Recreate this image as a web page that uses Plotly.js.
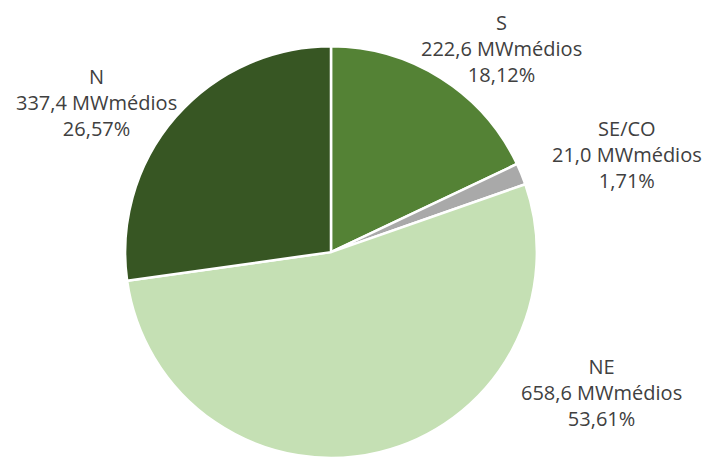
<!DOCTYPE html>
<html>
<head>
<meta charset="utf-8">
<script src="https://cdn.plot.ly/plotly-3.0.1.min.js"></script>
<style>html,body{margin:0;padding:0;background:#fff;}</style>
</head>
<body>
<div id="chart" style="width:708px;height:458px;"></div>
<script>
const regions = ["S", "SE/CO", "NE", "N"];
const mwValues = [222.6, 21.0, 658.6, 337.4];
const mwText = ["222,6", "21,0", "658,6", "337,4"];
const percentText = ["18,12%", "1,71%", "53,61%", "26,57%"];
const colors = ["#548235", "#A9A9A9", "#C5E0B4", "#375623"];
const labelX = [0.708, 0.885, 0.850, 0.137];
const labelY = [0.895, 0.662, 0.142, 0.777];

const annotations = regions.map((r, i) => ({
  text: r + "<br>" + mwText[i] + " MWmédios<br>" + percentText[i],
  x: labelX[i], y: labelY[i], xref: "paper", yref: "paper",
  xanchor: "center", yanchor: "middle", showarrow: false, align: "center",
  font: {family: "Open Sans", size: 20, color: "#404040"}
}));

Plotly.newPlot("chart", [{
  type: "pie",
  labels: regions,
  values: mwValues,
  sort: false,
  direction: "clockwise",
  rotation: 0,
  textinfo: "none",
  hoverinfo: "none",
  marker: {colors: colors, line: {color: "#ffffff", width: 2.5}},
  domain: {x: [0.175, 0.760], y: [0, 0.899]},
  automargin: false
}], {
  width: 708, height: 458,
  margin: {l: 0, r: 0, t: 0, b: 0},
  showlegend: false,
  paper_bgcolor: "#ffffff",
  annotations: annotations
}, {displayModeBar: false, staticPlot: true});
</script>
</body>
</html>
